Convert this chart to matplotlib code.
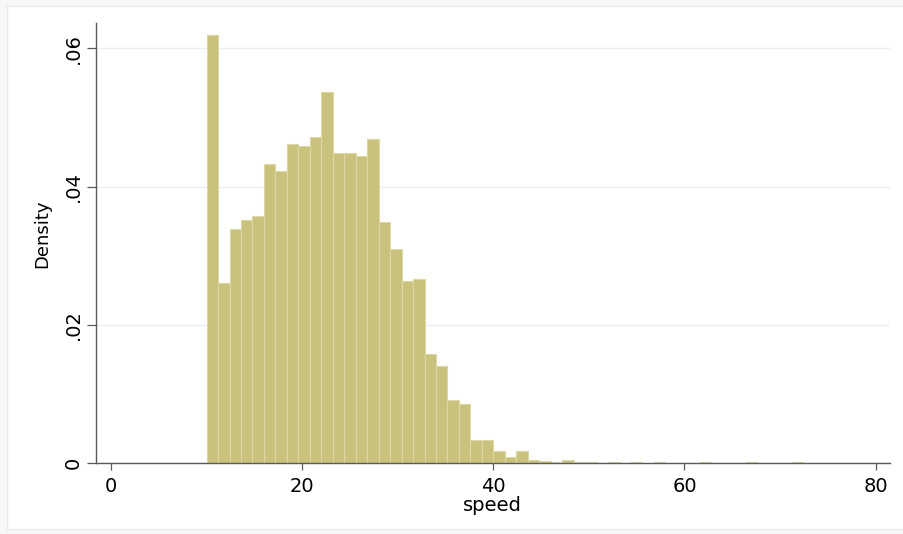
#Histograma de densidad de la velocidad (speed)

#Cargar librerias
import matplotlib
matplotlib.use("Agg")
import matplotlib.pyplot as plt
from matplotlib.patches import Rectangle


#Datos
inicio_bins = 10.0
ancho_bin = 1.2
densidad = [
    0.0619, 0.0261, 0.0339, 0.0351, 0.0358, 0.0433, 0.0423, 0.0461, 0.0458, 0.0471,
    0.0537, 0.0449, 0.0449, 0.0444, 0.0469, 0.0348, 0.0309, 0.0263, 0.0266, 0.0158,
    0.0140, 0.0091, 0.0085, 0.0034, 0.0033, 0.0017, 0.0009, 0.0017, 0.0004, 0.0003,
    0.0002, 0.0004, 0.00015, 0.00015, 0.0, 0.00015, 0.0, 0.00015, 0.0, 0.00015,
    0.0, 0.0, 0.0, 0.00015, 0.0, 0.0, 0.0, 0.00015, 0.0, 0.0,
    0.0, 0.00015,
]
x_ticks = [0, 20, 40, 60, 80]
y_ticks = [0, 0.02, 0.04, 0.06]
y_etiquetas = ["0", ".02", ".04", ".06"]

color_barra = "#C9C27C"
color_borde = "#DCD7A5"
color_eje = "#5A5A5A"
fuente_estrecha = ["Liberation Sans Narrow", "DejaVu Sans Condensed", "DejaVu Sans"]


#Función que grafica el histograma
def graficar_histograma():
    fig = plt.figure(figsize=(9.04, 5.34), dpi=100, facecolor="#F7F7F7")

    #Panel blanco del grafico (estilo Stata), detras de los ejes
    panel = Rectangle((7 / 904, 1 - 529 / 534), 1.0, 523 / 534,
                      transform=fig.transFigure, facecolor="white",
                      edgecolor="#E9E9E9", linewidth=1, zorder=-10)
    fig.add_artist(panel)

    ax = fig.add_axes([96 / 904, 1 - 463 / 534, 794 / 904, 440 / 534])
    ax.set_facecolor("white")

    bordes = [inicio_bins + ancho_bin * i for i in range(len(densidad))]
    xs = [b for b, d in zip(bordes, densidad) if d > 0]
    hs = [d for d in densidad if d > 0]
    ax.bar(xs, hs, width=ancho_bin, align="edge", color=color_barra,
           edgecolor=color_borde, linewidth=0.8, zorder=2)

    ax.set_xlim(-1.57, 81.5)
    ax.set_ylim(0, 0.06366)

    ax.set_xticks(x_ticks)
    ax.set_xticklabels([str(t) for t in x_ticks], fontsize=14, family="DejaVu Sans")
    ax.set_yticks(y_ticks)
    ax.set_yticklabels(y_etiquetas, rotation=90, va="center", fontsize=14,
                       family=fuente_estrecha)

    ax.tick_params(axis="x", direction="out", length=5, width=0.9, color=color_eje, pad=5)
    ax.tick_params(axis="y", direction="out", length=6.5, width=0.9, color=color_eje, pad=3)

    for lado in ["top", "right"]:
        ax.spines[lado].set_visible(False)
    for lado in ["left", "bottom"]:
        ax.spines[lado].set_color(color_eje)
        ax.spines[lado].set_linewidth(1.0)

    ax.yaxis.grid(True, color="#EAEFF5", linewidth=1.0)
    ax.set_axisbelow(True)

    ax.set_xlabel("speed", fontsize=14, family="DejaVu Sans", va="center")
    ax.xaxis.set_label_coords(0.4987, -0.096)
    ax.set_ylabel("Density", fontsize=13, family=fuente_estrecha, va="center")
    ax.yaxis.set_label_coords(-0.068, (463 - 234) / 440)

    fig.savefig("out.png", dpi=100, facecolor=fig.get_facecolor())


if __name__ == "__main__":
    graficar_histograma()
